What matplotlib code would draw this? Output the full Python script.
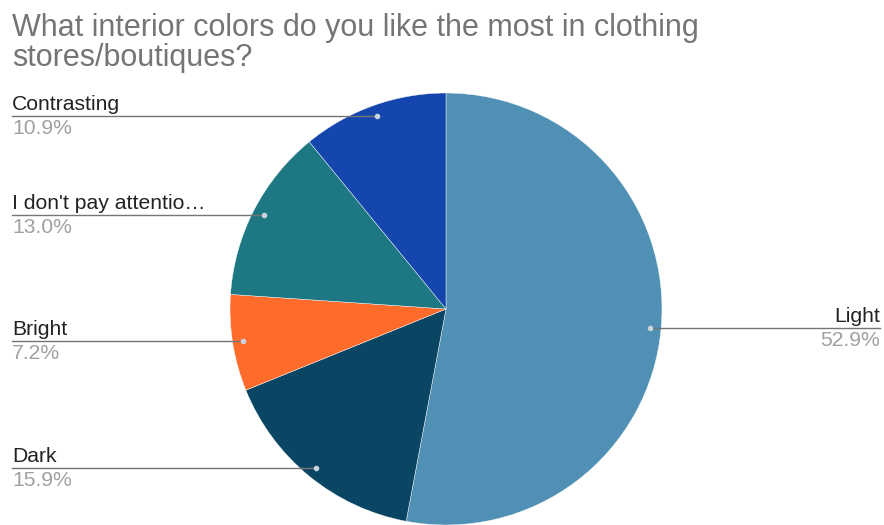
import matplotlib
matplotlib.use('Agg')

import matplotlib.pyplot as plt
import numpy as np

# datos del gráfico (orden horario desde las 12)
categorias = ['Light', 'Dark', 'Bright', "I don't pay attentio…", 'Contrasting']
porcentajes = [52.9, 15.9, 7.2, 13.0, 10.9]
colores = ['#5090b4', '#0a4664', '#ff6b2b', '#1e7883', '#1446ad']

W, H = 884, 525
cx, cy, r = 446, 216, 216

fig = plt.figure(figsize=(W / 100, H / 100), dpi=100)
ax = fig.add_axes([0, 0, 1, 1])

wedges, _ = ax.pie(porcentajes, colors=colores, startangle=90, counterclock=False,
                   center=(cx, cy), radius=r, frame=True,
                   wedgeprops=dict(edgecolor='white', linewidth=0.3))
ax.set_xlim(0, W)
ax.set_ylim(0, H)
ax.set_aspect('equal')
ax.axis('off')

for w, cat, p in zip(wedges, categorias, porcentajes):
    ang = np.deg2rad((w.theta1 + w.theta2) / 2)
    px = cx + 0.95 * r * np.cos(ang)
    py = cy + 0.95 * r * np.sin(ang)
    if px > cx:
        x_end, ha = 880, 'right'
    else:
        x_end, ha = 12, 'left'
    ax.plot([px, x_end], [py, py], color='#757575', lw=1.0, zorder=3)
    ax.plot(px, py, 'o', color='#c8d3dc', markersize=3, zorder=4)
    ax.text(x_end, py + 2, cat, ha=ha, va='bottom', fontsize=15.2,
            color='#222222', family='Liberation Sans')
    ax.text(x_end, py - 3, f'{p:.1f}%', ha=ha, va='top', fontsize=15.2,
            color='#a0a0a0', family='Liberation Sans')

fig.text(12 / W, 1 - 13 / H,
         'What interior colors do you like the most in clothing\nstores/boutiques?',
         ha='left', va='top', fontsize=22, color='#757575',
         family='Liberation Sans', linespacing=1.0)

fig.savefig('out.png', dpi=100)
plt.close(fig)
